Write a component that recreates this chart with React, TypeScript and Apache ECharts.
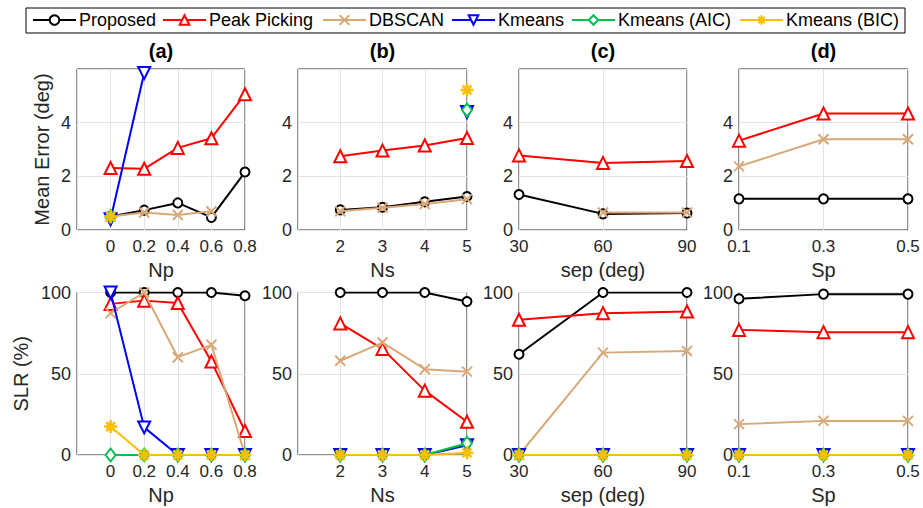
import React, { useEffect, useRef } from 'react';
import * as echarts from 'echarts';

const seriesNames = ['Proposed', 'Peak Picking', 'DBSCAN', 'Kmeans', 'Kmeans (AIC)', 'Kmeans (BIC)'];

const npVals = [0, 0.2, 0.4, 0.6, 0.8];
const nsVals = [2, 3, 4, 5];
const sepVals = [30, 60, 90];
const spCats = ['0.1', '0.3', '0.5'];

// Mean error (deg), one array per series in seriesNames order
const errA = [
  [0.5, 0.74, 1.01, 0.47, 2.16],
  [2.31, 2.28, 3.06, 3.42, 5.06],
  [0.5, 0.65, 0.56, 0.7, null],
  [0.4, 5.85, null, null, null],
  [0.5, null, null, null, null],
  [0.5, null, null, null, null],
];
const errB = [
  [0.75, 0.85, 1.05, 1.25],
  [2.75, 2.96, 3.15, 3.43],
  [0.7, 0.83, 0.97, 1.15],
  [null, null, null, 4.4],
  [null, null, null, 4.47],
  [null, null, null, 5.22],
];
const errC = [
  [1.32, 0.6, 0.63],
  [2.78, 2.5, 2.57],
  [null, 0.65, 0.65],
  [null, null, null],
  [null, null, null],
  [null, null, null],
];
const errD = [
  [1.16, 1.16, 1.16],
  [3.33, 4.34, 4.34],
  [2.37, 3.38, 3.38],
  [null, null, null],
  [null, null, null],
  [null, null, null],
];

// SLR (%)
const slrA = [
  [100, 100, 100, 100, 98],
  [93, 95, 93.5, 57.5, 14.8],
  [87.3, 100, 60.2, 67.8, 0],
  [100, 17, 0, 0, 0],
  [0, 0, 0, 0, 0],
  [17.5, 0, 0, 0, 0],
];
const slrB = [
  [100, 100, 100, 94.5],
  [81, 65.3, 39.6, 20.5],
  [58, 69.2, 52.8, 51.3],
  [0, 0, 0, 6],
  [0, 0, 0, 7.2],
  [0, 0, 0, 1.4],
];
const slrC = [
  [62, 100, 100],
  [83.2, 87.3, 88.3],
  [0, 63, 64],
  [0, 0, 0],
  [0, 0, 0],
  [0, 0, 0],
];
const slrD = [
  [96.1, 99, 99],
  [77, 75.6, 75.6],
  [19, 21, 21],
  [0, 0, 0],
  [0, 0, 0],
  [0, 0, 0],
];

const errTicksMax = 6;
const slrTicksMax = 100;

const FONT = '"Liberation Sans", Arial, Helvetica, sans-serif';
const TXT = '#262626';

const colors = ['#000000', '#FF0000', '#D9A878', '#0000FF', '#00BF4F', '#FFBF00'];
const CROSS = 'path://M0,0L10,10M10,0L0,10';
const STAR = 'path://M5,0L5,10M0,5L10,5M1.6,1.6L8.4,8.4M8.4,1.6L1.6,8.4';
const symStyles = [
  { symbol: 'circle', size: 9, rotate: 0, fill: '#ffffff', bw: 2 },
  { symbol: 'triangle', size: 12, rotate: 0, fill: '#ffffff', bw: 2 },
  { symbol: CROSS, size: 10, rotate: 0, fill: 'transparent', bw: 2 },
  { symbol: 'triangle', size: 12, rotate: 180, fill: '#ffffff', bw: 2 },
  { symbol: 'diamond', size: [10, 13], rotate: 0, fill: '#ffffff', bw: 2 },
  { symbol: STAR, size: 13, rotate: 0, fill: 'transparent', bw: 2.6 },
];

const gridLefts = [77, 298, 519, 739];
const gridWidths = [168, 169, 168, 169];
const rowTops = [69, 292.5];
const rowHeights = [161, 162.5];
const legendLefts = [32, 162, 322, 451, 571, 739];

const panels = [
  { title: '(a)', xName: 'Np', kind: 'value', xs: npVals, min: -0.2, max: 0.8, interval: 0.2, err: errA, slr: slrA },
  { title: '(b)', xName: 'Ns', kind: 'value', xs: nsVals, min: 1, max: 5, interval: 1, err: errB, slr: slrB },
  { title: '(c)', xName: 'sep (deg)', kind: 'value', xs: sepVals, min: 30, max: 90, interval: 30, err: errC, slr: slrC },
  { title: '(d)', xName: 'Sp', kind: 'category', xs: spCats, min: 0, max: 0, interval: 0, err: errD, slr: slrD },
];

function buildOption() {
  const grid: any[] = [];
  const xAxis: any[] = [];
  const yAxis: any[] = [];
  const series: any[] = [];
  const title: any[] = [];

  for (let r = 0; r < 2; r++) {
    panels.forEach((p, pi) => {
      const gi = r * 4 + pi;
      grid.push({
        left: gridLefts[pi],
        top: rowTops[r],
        width: gridWidths[pi],
        height: rowHeights[r],
        show: true,
        borderColor: TXT,
        borderWidth: 1,
        backgroundColor: 'transparent',
        containLabel: false,
      });
      const commonX: any = {
        gridIndex: gi,
        name: p.xName,
        nameLocation: 'middle',
        nameGap: 30,
        nameTextStyle: { fontFamily: FONT, fontSize: 20, color: TXT },
        axisLine: { show: false },
        axisTick: { show: false },
        splitLine: { show: true, lineStyle: { color: '#e3e3e3', width: 1 } },
        axisLabel: { fontFamily: FONT, fontSize: 17, color: TXT, margin: 8 },
      };
      if (p.kind === 'value') {
        xAxis.push({
          ...commonX,
          type: 'value',
          min: p.min,
          max: p.max,
          interval: p.interval,
          axisLabel: {
            ...commonX.axisLabel,
            formatter: (v: number) => (v < p.min + p.interval * 0.5 && pi !== 2 ? '' : String(Math.round(v * 10) / 10)),
          },
        });
      } else {
        xAxis.push({ ...commonX, type: 'category', boundaryGap: false, data: p.xs });
      }
      const isErr = r === 0;
      yAxis.push({
        gridIndex: gi,
        type: 'value',
        min: 0,
        max: isErr ? errTicksMax : slrTicksMax,
        interval: isErr ? 2 : 50,
        name: pi === 0 ? (isErr ? 'Mean Error (deg)' : 'SLR (%)') : '',
        nameLocation: 'middle',
        nameGap: isErr ? 25 : 46,
        nameTextStyle: { fontFamily: FONT, fontSize: 20, color: TXT },
        axisLine: { show: false },
        axisTick: { show: false },
        splitLine: { show: true, lineStyle: { color: '#e3e3e3', width: 1 } },
        axisLabel: {
          fontFamily: FONT,
          fontSize: 18,
          color: TXT,
          margin: 6,
          formatter: (v: number) => (isErr && v >= 5.9 ? '' : String(v)),
        },
      });
      const sets = isErr ? p.err : p.slr;
      sets.forEach((ys, si) => {
        const st = symStyles[si];
        const data = p.kind === 'value'
          ? (p.xs as number[]).map((x, i) => [x, ys[i] == null ? '-' : ys[i]])
          : ys.map((y) => (y == null ? '-' : y));
        series.push({
          type: 'line',
          name: seriesNames[si],
          xAxisIndex: gi,
          yAxisIndex: gi,
          data,
          color: colors[si],
          symbol: st.symbol,
          symbolSize: st.size,
          symbolRotate: st.rotate,
          showSymbol: true,
          showAllSymbol: true,
          lineStyle: { width: 2, color: colors[si] },
          itemStyle: { color: st.fill, borderColor: colors[si], borderWidth: st.bw },
          emphasis: { disabled: true },
          z: 2 + si,
        });
      });
      if (r === 0) {
        title.push({
          text: p.title,
          left: gridLefts[pi] + gridWidths[pi] / 2,
          top: 41,
          textAlign: 'center',
          padding: 0,
          textStyle: { fontFamily: FONT, fontSize: 20, fontWeight: 'bold', color: '#000' },
        });
      }
    });
  }

  const legend = seriesNames.map((n, i) => ({
    data: [n],
    left: legendLefts[i],
    top: 11,
    padding: 0,
    itemWidth: 43,
    itemHeight: 12,
    itemGap: 0,
    selectedMode: false,
    textStyle: { fontFamily: FONT, fontSize: 18, color: '#000', padding: [0, 0, 0, -2] },
  }));

  return {
    animation: false,
    backgroundColor: '#ffffff',
    title,
    legend,
    grid,
    xAxis,
    yAxis,
    series,
    graphic: [
      {
        type: 'rect',
        shape: { x: 26, y: 8, width: 879, height: 25 },
        style: { fill: 'transparent', stroke: '#000', lineWidth: 1 },
        z: 0,
      },
    ],
  };
}

export default function App() {
  const ref = useRef<HTMLDivElement>(null);
  useEffect(() => {
    if (!ref.current) return;
    const chart = echarts.init(ref.current, undefined, { renderer: 'svg' });
    chart.setOption(buildOption() as any);
    return () => chart.dispose();
  }, []);
  return <div ref={ref} style={{ width: 923, height: 508, position: 'absolute', left: 0, top: 0 }} />;
}
